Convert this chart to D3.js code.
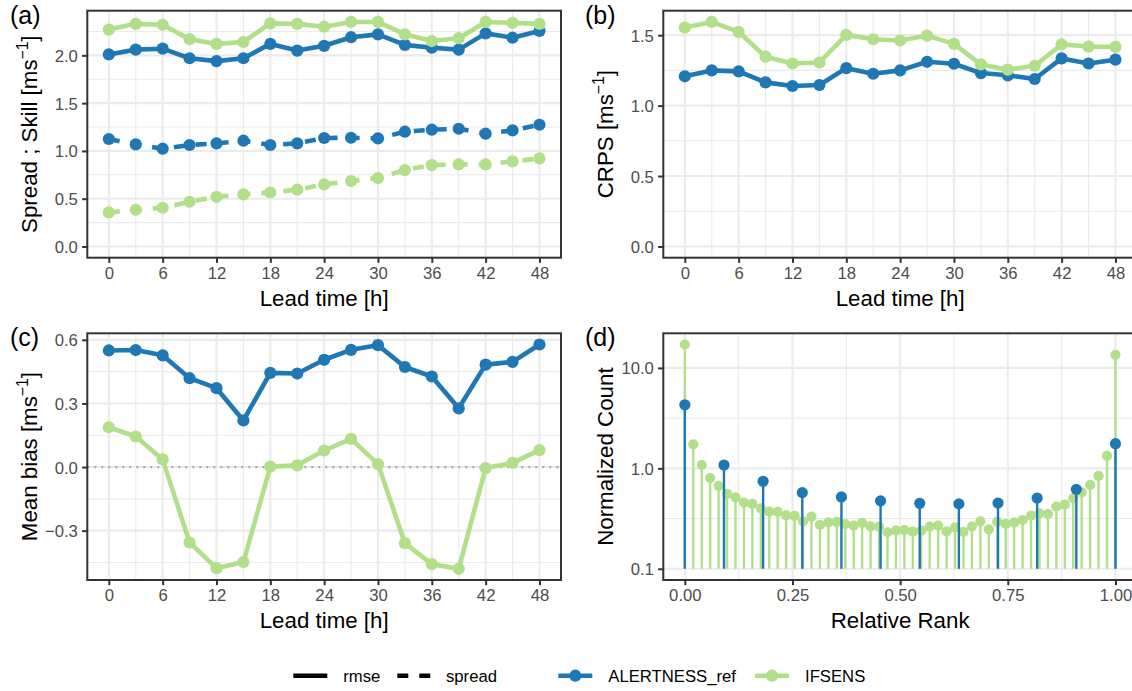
<!DOCTYPE html>
<html>
<head>
<meta charset="utf-8">
<script src="https://cdn.jsdelivr.net/npm/d3@7"></script>
<style>
  body { margin: 0; background: #ffffff; }
  svg { display: block; }
  text { font-family: "Liberation Sans", Arial, Helvetica, sans-serif; }
</style>
</head>
<body>
<svg id="fig" width="1132" height="691"></svg>
<script>
// ---- data -------------------------------------------------------------
const leadTime = [0, 3, 6, 9, 12, 15, 18, 21, 24, 27, 30, 33, 36, 39, 42, 45, 48];

const rmseAlertness   = [2.01, 2.06, 2.07, 1.97, 1.94, 1.97, 2.12, 2.05, 2.10, 2.19, 2.22, 2.11, 2.08, 2.06, 2.23, 2.185, 2.255];
const rmseIfsens      = [2.27, 2.33, 2.32, 2.17, 2.12, 2.14, 2.335, 2.33, 2.30, 2.35, 2.35, 2.22, 2.15, 2.18, 2.35, 2.34, 2.33];
const spreadAlertness = [1.125, 1.068, 1.023, 1.062, 1.079, 1.107, 1.062, 1.079, 1.135, 1.138, 1.131, 1.201, 1.222, 1.232, 1.18, 1.215, 1.274];
const spreadIfsens    = [0.356, 0.384, 0.405, 0.468, 0.52, 0.545, 0.565, 0.594, 0.649, 0.685, 0.716, 0.80, 0.852, 0.859, 0.859, 0.89, 0.921];

const crpsAlertness = [1.208, 1.25, 1.243, 1.165, 1.139, 1.146, 1.266, 1.226, 1.25, 1.311, 1.297, 1.231, 1.215, 1.189, 1.335, 1.299, 1.326];
const crpsIfsens    = [1.554, 1.594, 1.523, 1.347, 1.299, 1.306, 1.502, 1.471, 1.462, 1.497, 1.438, 1.292, 1.255, 1.283, 1.434, 1.419, 1.417];

const biasAlertness = [0.55, 0.552, 0.527, 0.419, 0.372, 0.22, 0.444, 0.441, 0.506, 0.553, 0.575, 0.472, 0.427, 0.277, 0.483, 0.496, 0.578];
const biasIfsens    = [0.1875, 0.144, 0.036, -0.356, -0.477, -0.448, 0.002, 0.008, 0.078, 0.133, 0.014, -0.359, -0.458, -0.48, -0.005, 0.02, 0.08];

// rank histograms (normalized counts), ranks spread evenly over [0, 1]
const rankCountAlertness = [4.3, 1.08, 0.743, 0.573, 0.519, 0.474, 0.449, 0.443, 0.452, 0.506, 0.618, 1.76];
const rankCountIfsens = [
  17.1, 1.73, 1.08, 0.80, 0.67, 0.556, 0.514, 0.456, 0.442, 0.40,
  0.371, 0.368, 0.34, 0.336, 0.297, 0.33, 0.273, 0.29, 0.293, 0.279,
  0.269, 0.286, 0.265, 0.263, 0.231, 0.24, 0.243, 0.234, 0.24, 0.263,
  0.269, 0.236, 0.259, 0.233, 0.263, 0.297, 0.247, 0.293, 0.28, 0.288,
  0.306, 0.338, 0.356, 0.351, 0.416, 0.435, 0.503, 0.577, 0.684, 0.84,
  1.33, 13.5
];

const leadTicks = [0, 6, 12, 18, 24, 30, 36, 42, 48];
const leadMinor = [3, 9, 15, 21, 27, 33, 39, 45];
const skillTicks = [0, 0.5, 1.0, 1.5, 2.0];
const skillMinor = [0.25, 0.75, 1.25, 1.75, 2.25];
const crpsTicks = [0, 0.5, 1.0, 1.5];
const crpsMinor = [0.25, 0.75, 1.25];
const biasTicks = [-0.3, 0, 0.3, 0.6];
const biasMinor = [-0.45, -0.15, 0.15, 0.45];
const rankTicks = [0, 0.25, 0.5, 0.75, 1.0];
const rankMinor = [0.125, 0.375, 0.625, 0.875];
const countTicks = [0.1, 1, 10];
const countMinor = [Math.sqrt(0.1), Math.sqrt(10)];

const modelNames = ["ALERTNESS_ref", "IFSENS"];
const metricNames = ["rmse", "spread"];

// ---- styling ------------------------------------------------------------
const BLUE = "#1f78b4", GREEN = "#b2df8a";
const modelColor = { "ALERTNESS_ref": BLUE, "IFSENS": GREEN };
const TICK_FS = 16.7, TITLE_FS = 22.3, TAG_FS = 25;
const LINE_W = 4.6, PT_R = 6.1, DASH = "11 11";

const svg = d3.select("#fig");
svg.append("rect").attr("width", 1132).attr("height", 691).attr("fill", "#fff");

// panel boxes (plot regions)
const boxes = {
  a: { x0: 87.3,  x1: 561,  y0: 10.7,  y1: 257.7 },
  b: { x0: 663.3, x1: 1137, y0: 10.7,  y1: 257.7 },
  c: { x0: 87.3,  x1: 561,  y0: 333.3, y1: 580 },
  d: { x0: 663.3, x1: 1137, y0: 333.3, y1: 580 }
};

// ggplot-like 5% expansion
function expand(lo, hi, f = 0.05) { const r = hi - lo; return [lo - r * f, hi + r * f]; }

function drawFrame(box, x, y, opts) {
  const g = svg.append("g");
  const clipId = "clip" + Math.random().toString(36).slice(2);
  svg.append("clipPath").attr("id", clipId)
    .append("rect").attr("x", box.x0).attr("y", box.y0)
    .attr("width", box.x1 - box.x0).attr("height", box.y1 - box.y0);
  const grid = g.append("g").attr("clip-path", `url(#${clipId})`);
  grid.append("rect").attr("x", box.x0).attr("y", box.y0)
    .attr("width", box.x1 - box.x0).attr("height", box.y1 - box.y0).attr("fill", "#fff");
  // minor grid
  grid.selectAll(null).data(opts.yMinor).enter().append("line")
    .attr("x1", box.x0).attr("x2", box.x1).attr("y1", d => y(d)).attr("y2", d => y(d))
    .attr("stroke", "#ebebeb").attr("stroke-width", 1.1);
  grid.selectAll(null).data(opts.xMinor).enter().append("line")
    .attr("y1", box.y0).attr("y2", box.y1).attr("x1", d => x(d)).attr("x2", d => x(d))
    .attr("stroke", "#ebebeb").attr("stroke-width", 1.1);
  // major grid
  grid.selectAll(null).data(opts.yTicks).enter().append("line")
    .attr("x1", box.x0).attr("x2", box.x1).attr("y1", d => y(d)).attr("y2", d => y(d))
    .attr("stroke", "#ebebeb").attr("stroke-width", 2.1);
  grid.selectAll(null).data(opts.xTicks).enter().append("line")
    .attr("y1", box.y0).attr("y2", box.y1).attr("x1", d => x(d)).attr("x2", d => x(d))
    .attr("stroke", "#ebebeb").attr("stroke-width", 2.1);
  const data = g.append("g").attr("clip-path", `url(#${clipId})`);
  return { g, data };
}

function drawAxes(box, x, y, opts) {
  const g = svg.append("g");
  // border
  g.append("rect").attr("x", box.x0).attr("y", box.y0)
    .attr("width", box.x1 - box.x0).attr("height", box.y1 - box.y0)
    .attr("fill", "none").attr("stroke", "#333333").attr("stroke-width", 2);
  const TL = 5.2;
  // y axis
  const ya = g.append("g").attr("transform", `translate(${box.x0},0)`)
    .call(d3.axisLeft(y).tickValues(opts.yTicks).tickFormat(opts.yFmt).tickSize(TL).tickPadding(4.2));
  // x axis
  const xa = g.append("g").attr("transform", `translate(0,${box.y1})`)
    .call(d3.axisBottom(x).tickValues(opts.xTicks).tickFormat(opts.xFmt).tickSize(TL).tickPadding(4.2));
  [ya, xa].forEach(a => {
    a.select(".domain").remove();
    a.selectAll(".tick line").attr("stroke", "#333333").attr("stroke-width", 2);
    a.selectAll(".tick text").attr("fill", "#4d4d4d").style("font-size", TICK_FS + "px")
      .style("font-family", '"Liberation Sans", Arial, sans-serif');
  });
  ya.selectAll(".tick text").attr("dy", "0.36em");
  xa.selectAll(".tick text").attr("dy", "0.72em");
  // x title
  g.append("text").attr("x", (box.x0 + box.x1) / 2).attr("y", box.y1 + 48.3)
    .attr("text-anchor", "middle").style("font-size", TITLE_FS + "px").attr("fill", "#000")
    .text(opts.xTitle);
  // y title (rotated)
  const yt = g.append("text")
    .attr("transform", `translate(${opts.yTitleX},${(box.y0 + box.y1) / 2}) rotate(-90)`)
    .attr("text-anchor", "middle").style("font-size", TITLE_FS + "px").attr("fill", "#000");
  yt.append("tspan").text(opts.yTitle);
  if (opts.unit) {
    yt.append("tspan").text("[ms");
    yt.append("tspan").text("\u22121").style("font-size", (TITLE_FS * 0.7) + "px").attr("dy", -9);
    yt.append("tspan").text("]").attr("dy", 9);
  }
  // tag
  g.append("text").attr("x", opts.tagX).attr("y", box.y0 + 12.8)
    .style("font-size", TAG_FS + "px").attr("fill", "#000").text(opts.tag);
}

const fmt1 = d3.format(".1f"), fmt2 = d3.format(".2f"), fmt0 = d3.format("d");

// lead-time x scales
const xLeadA = d3.scaleLinear().domain(expand(0, 48)).range([boxes.a.x0, boxes.a.x1]);
const xLeadB = d3.scaleLinear().domain(expand(0, 48)).range([boxes.b.x0, boxes.b.x1]);
const xLeadC = d3.scaleLinear().domain(expand(0, 48)).range([boxes.c.x0, boxes.c.x1]);

function series(values) { return leadTime.map((t, i) => ({ t, v: values[i] })); }

function drawSeries(layer, x, y, list) {
  const line = d3.line().x(d => x(d.t)).y(d => y(d.v));
  list.forEach(s => {
    layer.append("path").datum(series(s.values)).attr("d", line)
      .attr("fill", "none").attr("stroke", s.color).attr("stroke-width", LINE_W)
      .attr("stroke-linejoin", "round").attr("stroke-linecap", "butt")
      .attr("stroke-dasharray", s.dashed ? DASH : null);
  });
  list.forEach(s => {
    layer.selectAll(null).data(series(s.values)).enter().append("circle")
      .attr("cx", d => x(d.t)).attr("cy", d => y(d.v)).attr("r", PT_R).attr("fill", s.color);
  });
}

// ---- (a) spread / skill ----------------------------------------------------
{
  const box = boxes.a;
  const maxA = d3.max([...rmseAlertness, ...rmseIfsens, ...spreadAlertness, ...spreadIfsens]);
  const y = d3.scaleLinear().domain(expand(0, maxA)).range([box.y1, box.y0]);
  const opts = { xTicks: leadTicks, xMinor: leadMinor, yTicks: skillTicks, yMinor: skillMinor,
    xFmt: fmt0, yFmt: fmt1, xTitle: "Lead time [h]", yTitle: "Spread ; Skill ", unit: true,
    yTitleX: 37, tag: "(a)", tagX: 10 };
  const { data } = drawFrame(box, xLeadA, y, opts);
  drawSeries(data, xLeadA, y, [
    { values: rmseAlertness, color: BLUE },
    { values: rmseIfsens, color: GREEN },
    { values: spreadAlertness, color: BLUE, dashed: true },
    { values: spreadIfsens, color: GREEN, dashed: true }
  ]);
  drawAxes(box, xLeadA, y, opts);
}

// ---- (b) CRPS -------------------------------------------------------------
{
  const box = boxes.b;
  const maxB = d3.max([...crpsAlertness, ...crpsIfsens]);
  const y = d3.scaleLinear().domain(expand(0, maxB)).range([box.y1, box.y0]);
  const opts = { xTicks: leadTicks, xMinor: leadMinor, yTicks: crpsTicks, yMinor: crpsMinor,
    xFmt: fmt0, yFmt: fmt1, xTitle: "Lead time [h]", yTitle: "CRPS ", unit: true,
    yTitleX: 613, tag: "(b)", tagX: 585 };
  const { data } = drawFrame(box, xLeadB, y, opts);
  drawSeries(data, xLeadB, y, [
    { values: crpsAlertness, color: BLUE },
    { values: crpsIfsens, color: GREEN }
  ]);
  drawAxes(box, xLeadB, y, opts);
}

// ---- (c) mean bias ----------------------------------------------------------
{
  const box = boxes.c;
  const all = [...biasAlertness, ...biasIfsens];
  const y = d3.scaleLinear().domain(expand(d3.min(all), d3.max(all))).range([box.y1, box.y0]);
  const opts = { xTicks: leadTicks, xMinor: leadMinor, yTicks: biasTicks, yMinor: biasMinor,
    xFmt: fmt0, yFmt: fmt1, xTitle: "Lead time [h]", yTitle: "Mean bias ", unit: true,
    yTitleX: 37, tag: "(c)", tagX: 10 };
  const { data } = drawFrame(box, xLeadC, y, opts);
  data.append("line").attr("x1", box.x0).attr("x2", box.x1).attr("y1", y(0)).attr("y2", y(0))
    .attr("stroke", "#a8a8a8").attr("stroke-width", 2.2).attr("stroke-dasharray", "2 5");
  drawSeries(data, xLeadC, y, [
    { values: biasAlertness, color: BLUE },
    { values: biasIfsens, color: GREEN }
  ]);
  drawAxes(box, xLeadC, y, opts);
}

// ---- (d) rank histogram ---------------------------------------------------
{
  const box = boxes.d;
  const x = d3.scaleLinear().domain(expand(0, 1)).range([box.x0, box.x1]);
  const all = [...rankCountAlertness, ...rankCountIfsens, 0.1];
  const logDom = expand(Math.log10(d3.min(all)), Math.log10(d3.max(all)));
  const y = d3.scaleLog().domain(logDom.map(v => Math.pow(10, v))).range([box.y1, box.y0]);
  const opts = { xTicks: rankTicks, xMinor: rankMinor, yTicks: countTicks, yMinor: countMinor,
    xFmt: fmt2, yFmt: fmt1, xTitle: "Relative Rank", yTitle: "Normalized Count", unit: false,
    yTitleX: 613, tag: "(d)", tagX: 585 };
  const { data } = drawFrame(box, x, y, opts);
  const sets = [
    { values: rankCountIfsens, color: GREEN, r: 5.1 },
    { values: rankCountAlertness, color: BLUE, r: 5.6 }
  ];
  sets.forEach(s => {
    const n = s.values.length - 1;
    const pts = s.values.map((v, i) => ({ rr: i / n, v }));
    data.selectAll(null).data(pts).enter().append("line")
      .attr("x1", d => x(d.rr)).attr("x2", d => x(d.rr))
      .attr("y1", y(0.1)).attr("y2", d => y(d.v))
      .attr("stroke", s.color).attr("stroke-width", 2.4);
    data.selectAll(null).data(pts).enter().append("circle")
      .attr("cx", d => x(d.rr)).attr("cy", d => y(d.v)).attr("r", s.r).attr("fill", s.color);
  });
  drawAxes(box, x, y, opts);
}

// ---- legend -----------------------------------------------------------------
{
  const lg = svg.append("g");
  const cy = 675.7;
  const keyW = 34;
  const items = [
    { x: 293.3, label: metricNames[0], color: "#000", dashed: false, point: false, tx: 343.3 },
    { x: 397.3, label: metricNames[1], color: "#000", dashed: true, point: false, tx: 446 },
    { x: 558.3, label: modelNames[0], color: modelColor[modelNames[0]], dashed: false, point: true, tx: 608.3 },
    { x: 755,   label: modelNames[1], color: modelColor[modelNames[1]], dashed: false, point: true, tx: 805 }
  ];
  items.forEach(it => {
    lg.append("line").attr("x1", it.x).attr("x2", it.x + keyW).attr("y1", cy).attr("y2", cy)
      .attr("stroke", it.color).attr("stroke-width", LINE_W)
      .attr("stroke-dasharray", it.dashed ? DASH : null);
    if (it.point) lg.append("circle").attr("cx", it.x + keyW / 2).attr("cy", cy).attr("r", PT_R).attr("fill", it.color);
    lg.append("text").attr("x", it.tx).attr("y", cy + 6).style("font-size", TICK_FS + "px")
      .attr("fill", "#000").text(it.label);
  });
}
</script>
</body>
</html>
